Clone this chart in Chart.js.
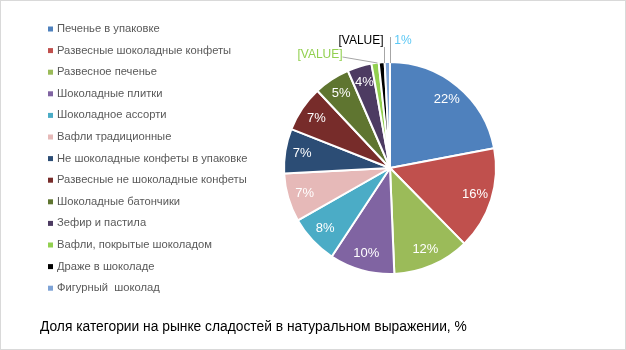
<!DOCTYPE html>
<html>
<head>
<meta charset="utf-8">
<script src="https://cdn.jsdelivr.net/npm/chart.js@4.4.0/dist/chart.umd.min.js"></script>
<style>
  html, body { margin: 0; padding: 0; background: #fff; }
  #wrap { width: 624px; height: 348px; border: 1px solid #d9d9d9; position: relative; }
  canvas { display: block; }
</style>
</head>
<body>
<div id="wrap"><canvas id="c" width="624" height="348"></canvas></div>
<script>
const categories = [
  'Печенье в упаковке',
  'Развесные шоколадные конфеты',
  'Развесное печенье',
  'Шоколадные плитки',
  'Шоколадное ассорти',
  'Вафли традиционные',
  'Не шоколадные конфеты в упаковке',
  'Развесные не шоколадные конфеты',
  'Шоколадные батончики',
  'Зефир и пастила',
  'Вафли, покрытые шоколадом',
  'Драже в шоколаде',
  'Фигурный  шоколад'
];
const shares = [22.0, 15.6, 11.7, 9.9, 7.5, 7.4, 6.8, 7.0, 5.5, 3.7, 1.1, 0.9, 0.8];
const valueLabels = ['22%', '16%', '12%', '10%', '8%', '7%', '7%', '7%', '5%', '4%', '[VALUE]', '[VALUE]', '1%'];
const colors = ['#4F81BD', '#C0504D', '#9BBB59', '#8064A2', '#4BACC6', '#E6B9B8', '#2C4D75',
                '#772C2A', '#5F7530', '#4D3B62', '#92D050', '#000000', '#7EA3D6'];
const titleText = 'Доля категории на рынке сладостей в натуральном выражении, %';

const FONT = '"Liberation Sans", Arial, sans-serif';

const labelPlugin = {
  id: 'labelsLegend',
  afterDatasetsDraw(chart) {
    const ctx = chart.ctx;
    const meta = chart.getDatasetMeta(0);
    ctx.save();
    // inside labels
    meta.data.forEach((arc, i) => {
      if (i >= 10) return;
      const mid = (arc.startAngle + arc.endAngle) / 2;
      const r = arc.outerRadius * 0.84;
      const x = arc.x + Math.cos(mid) * r;
      const y = arc.y + Math.sin(mid) * r;
      ctx.fillStyle = '#ffffff';
      ctx.font = '13px ' + FONT;
      ctx.textAlign = 'center';
      ctx.textBaseline = 'middle';
      ctx.fillText(valueLabels[i], x, y);
    });
    // outside labels with leader lines
    const cx = meta.data[0].x, cy = meta.data[0].y;
    const outside = [
      { i: 10, dx: -70, dy: -113, color: '#92D050', lx1: -48, ly1: -111, lx2: -13, ly2: -105 },
      { i: 11, dx: -29, dy: -127, color: '#000000', lx1: -6, ly1: -121, lx2: -6, ly2: -105 },
      { i: 12, dx: 13, dy: -127, color: '#5BC8F5', lx1: 0, ly1: -131, lx2: 0, ly2: -105 }
    ];
    outside.forEach(o => {
      ctx.strokeStyle = '#a6a6a6';
      ctx.lineWidth = 1;
      ctx.beginPath();
      ctx.moveTo(cx + o.lx1 + 0.5, cy + o.ly1);
      ctx.lineTo(cx + o.lx2 + 0.5, cy + o.ly2);
      ctx.stroke();
      ctx.fillStyle = o.color;
      ctx.font = '12px ' + FONT;
      ctx.textAlign = 'center';
      ctx.textBaseline = 'middle';
      ctx.fillText(valueLabels[o.i], cx + o.dx, cy + o.dy);
    });
    // legend
    const lx = 47, ly0 = 28, step = 21.6;
    categories.forEach((name, i) => {
      const y = ly0 + i * step;
      ctx.fillStyle = colors[i];
      ctx.fillRect(lx, y - 2.5, 5, 5);
      ctx.fillStyle = '#595959';
      ctx.font = '11.2px ' + FONT;
      ctx.textAlign = 'left';
      ctx.textBaseline = 'middle';
      ctx.fillText(name, lx + 9, y);
    });
    // title
    ctx.fillStyle = '#000000';
    ctx.font = '13.8px ' + FONT;
    ctx.textAlign = 'left';
    ctx.textBaseline = 'middle';
    ctx.fillText(titleText, 39, 326);
    ctx.restore();
  }
};

new Chart(document.getElementById('c'), {
  type: 'pie',
  data: {
    labels: categories,
    datasets: [{
      data: shares,
      backgroundColor: colors,
      borderColor: '#ffffff',
      borderWidth: 2,
      hoverOffset: 0
    }]
  },
  options: {
    responsive: false,
    animation: false,
    layout: { padding: { left: 282, right: 128, top: 60, bottom: 74 } },
    plugins: {
      legend: { display: false },
      tooltip: { enabled: false },
      title: { display: false }
    }
  },
  plugins: [labelPlugin]
});
</script>
</body>
</html>
